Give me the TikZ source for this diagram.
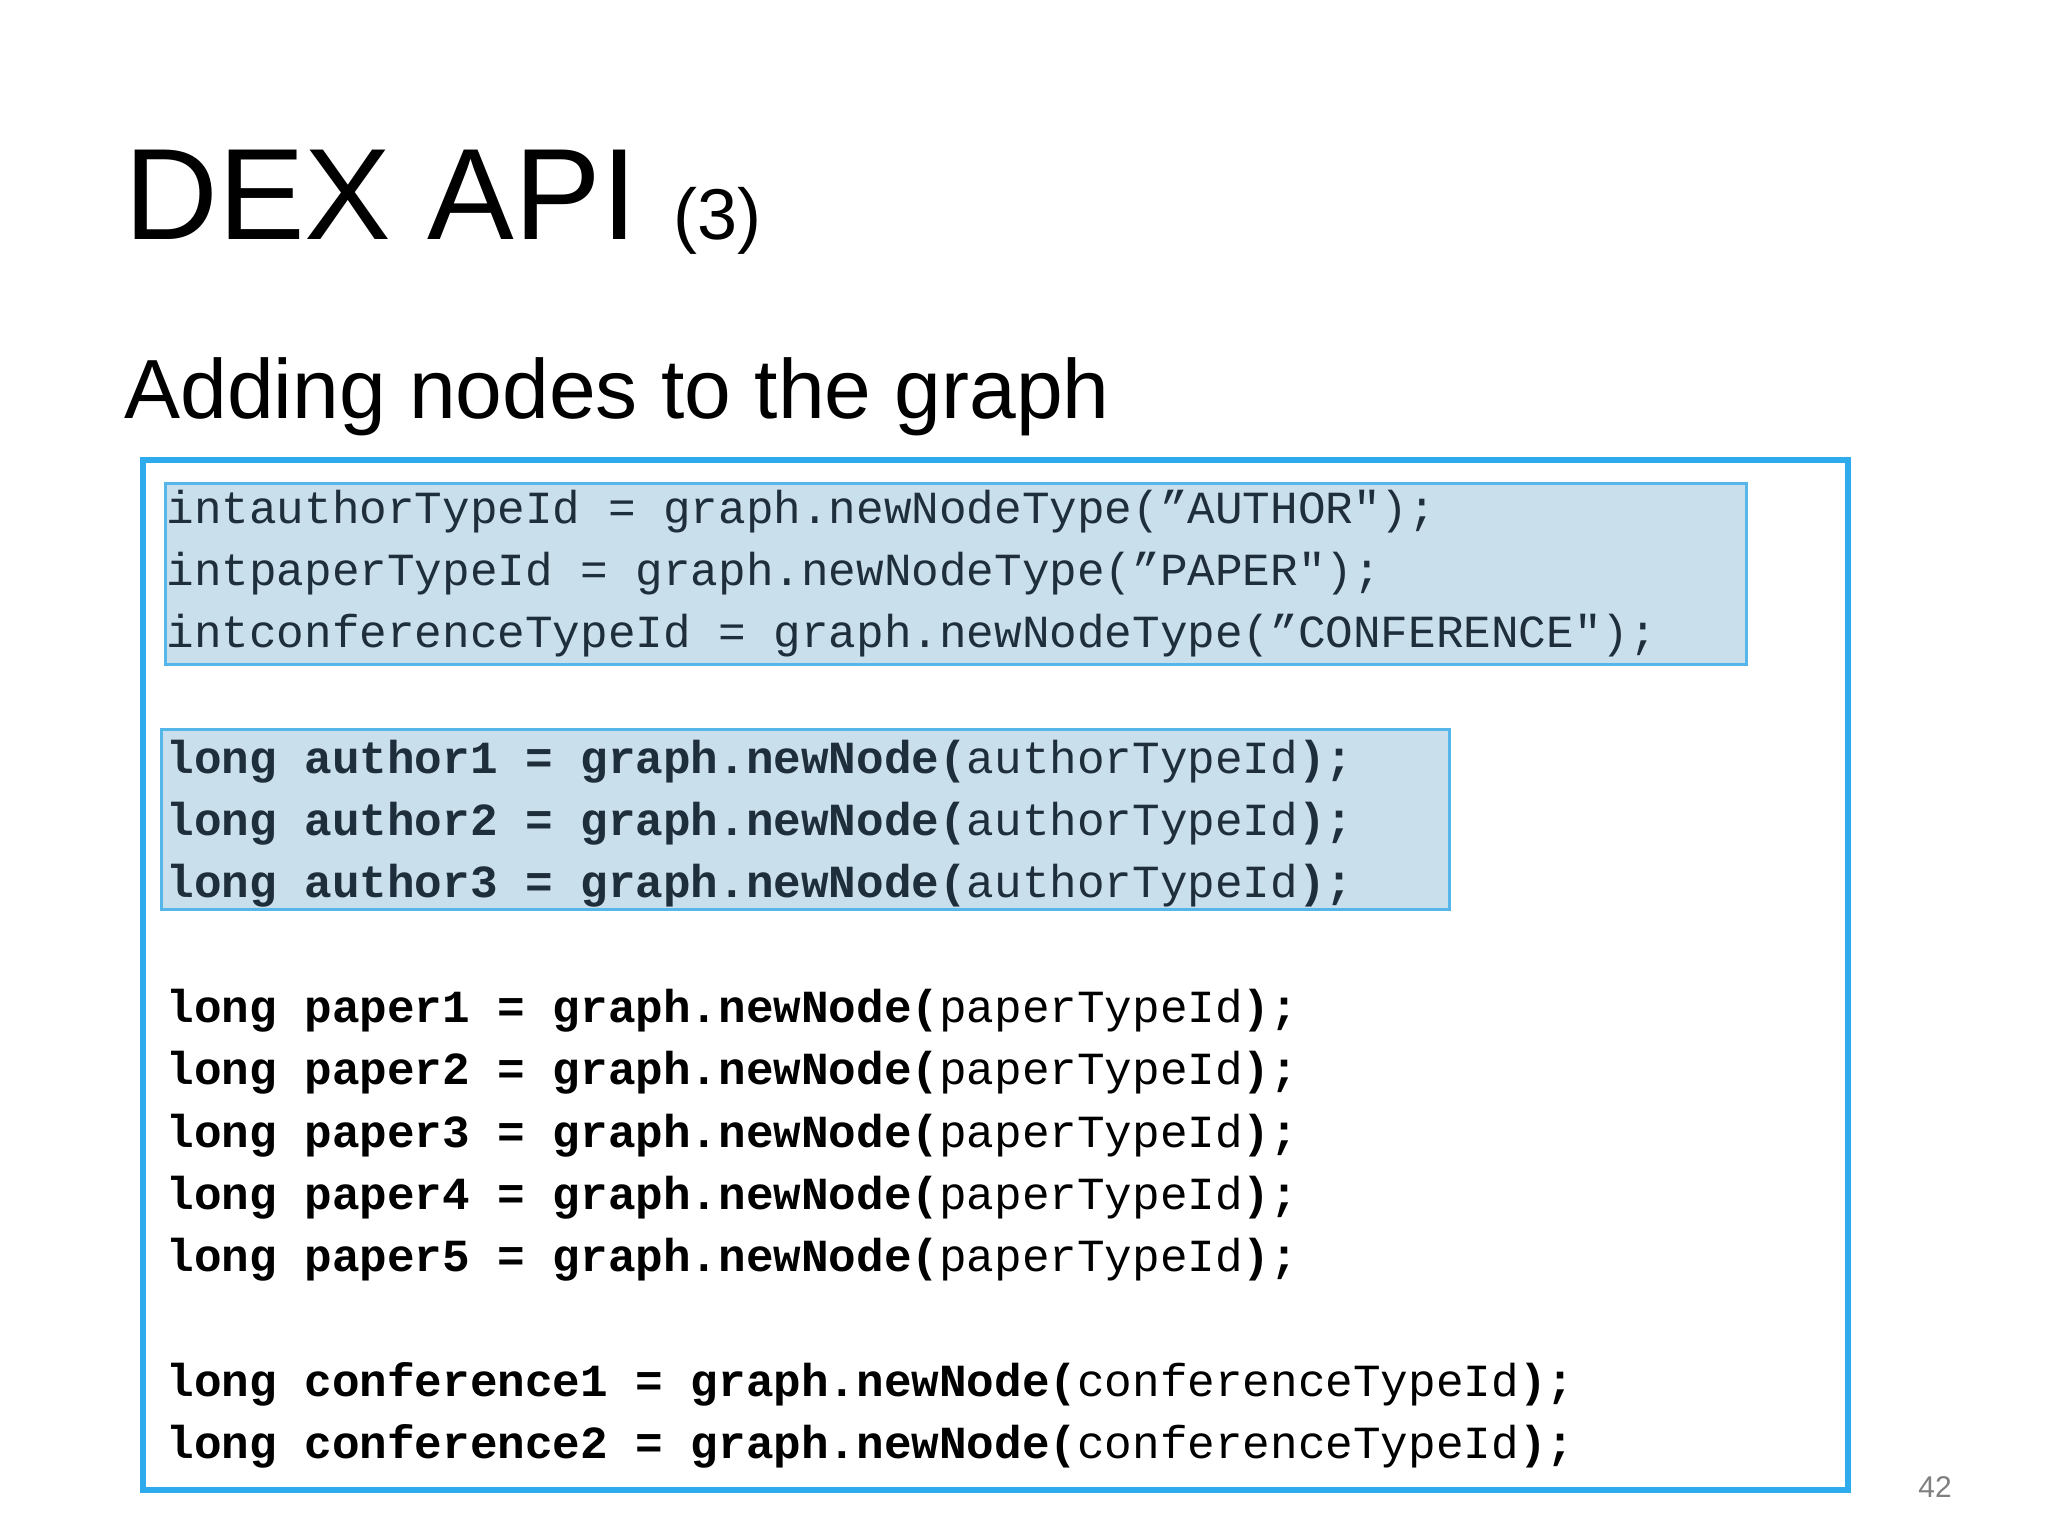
\documentclass[tikz,border=0pt]{standalone}
\usepackage{fontspec}
\setmainfont{Liberation Sans}
\newfontfamily\codefont{Liberation Mono}
\definecolor{hlfill}{HTML}{C9DFEB}
\definecolor{hlline}{HTML}{55B6EA}
\definecolor{outer}{HTML}{2EABEC}
\definecolor{codecol}{HTML}{1F2E3B}
\begin{document}
\begin{tikzpicture}[x=0.5pt,y=-0.5pt,
  codeline/.style={anchor=base west,inner sep=0pt,font=\codefont\fontsize{23}{26}\selectfont,text=codecol},
  hlbox/.style={fill=hlfill,draw=hlline,line width=1.5pt}]
\useasboundingbox (0,0) rectangle (2048,1536);
\fill[white] (0,0) rectangle (2048,1536);
\node[anchor=base west,inner sep=0pt,font=\fontsize{65}{70}\selectfont] (title) at (124,239) {DEX API \fontsize{36}{40}\selectfont(3)};
\node[anchor=base west,inner sep=0pt,font=\fontsize{42}{48}\selectfont] (sub) at (124,418) {Adding nodes to the graph};
\draw[outer,line width=3pt] (143,460) rectangle (1848,1490);
\node[hlbox,minimum width=0pt,inner sep=0pt,anchor=north west,minimum width=790.5pt,minimum height=90.5pt] (hA) at (164,482) {};
\node[hlbox,inner sep=0pt,anchor=north west,minimum width=644pt,minimum height=90pt] (hB) at (160,728) {};
\node[codeline] (l1) at (166,523) {intauthorTypeId = graph.newNodeType(”AUTHOR");};
\node[codeline] (l2) at (166,585) {intpaperTypeId = graph.newNodeType(”PAPER");};
\node[codeline] (l3) at (166,647) {intconferenceTypeId = graph.newNodeType(”CONFERENCE");};
\node[codeline] (a1) at (166,773) {\bfseries long author1 = graph.newNode(\mdseries authorTypeId\bfseries);};
\node[codeline] (a2) at (166,835) {\bfseries long author2 = graph.newNode(\mdseries authorTypeId\bfseries);};
\node[codeline] (a3) at (166,897) {\bfseries long author3 = graph.newNode(\mdseries authorTypeId\bfseries);};
\node[codeline,text=black] (p1) at (166,1022) {\bfseries long paper1 = graph.newNode(\mdseries paperTypeId\bfseries);};
\node[codeline,text=black] (p2) at (166,1084) {\bfseries long paper2 = graph.newNode(\mdseries paperTypeId\bfseries);};
\node[codeline,text=black] (p3) at (166,1147) {\bfseries long paper3 = graph.newNode(\mdseries paperTypeId\bfseries);};
\node[codeline,text=black] (p4) at (166,1209) {\bfseries long paper4 = graph.newNode(\mdseries paperTypeId\bfseries);};
\node[codeline,text=black] (p5) at (166,1271) {\bfseries long paper5 = graph.newNode(\mdseries paperTypeId\bfseries);};
\node[codeline,text=black] (c1) at (166,1396) {\bfseries long conference1 = graph.newNode(\mdseries conferenceTypeId\bfseries);};
\node[codeline,text=black] (c2) at (166,1458) {\bfseries long conference2 = graph.newNode(\mdseries conferenceTypeId\bfseries);};
\node[anchor=base,inner sep=0pt,font=\fontsize{15}{18}\selectfont,text=gray] (pg) at (1935,1497) {42};
\end{tikzpicture}
\end{document}
